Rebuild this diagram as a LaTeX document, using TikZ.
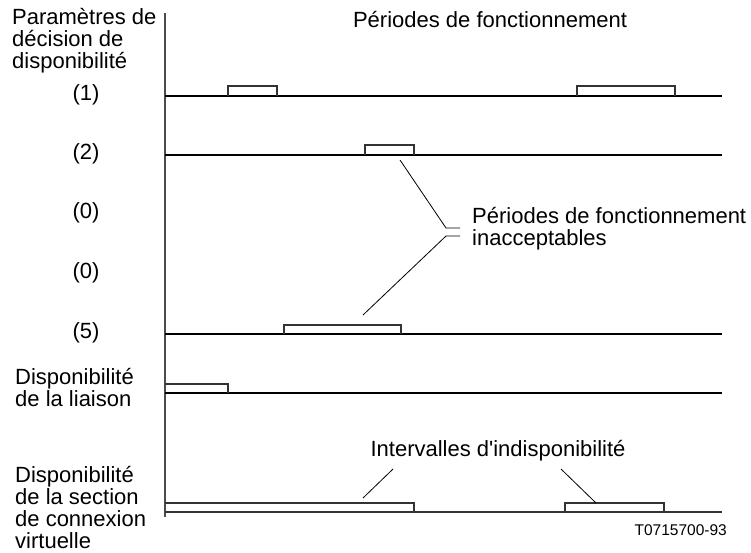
\documentclass[tikz,border=0pt]{standalone}
\usepackage{fontspec}
\setmainfont{Liberation Sans}
\usetikzlibrary{positioning}
\usetikzlibrary{calc}

\begin{document}
\begin{tikzpicture}[x=1pt,y=-1pt,
  every node/.style={font=\fontsize{22}{22}\selectfont,inner sep=0pt},
  trace/.style={line width=2.4pt},
  pulse/.style={line width=1.1pt,draw=black!80},
  lead/.style={line width=0.8pt}]
\useasboundingbox (0,0) rectangle (751,552);

% labels
\node[anchor=north west,align=left](param) at (12,8){Paramètres de\\décision de\\disponibilité};
\node[anchor=north](perf) at (490,11){Périodes de fonctionnement};
\node[](p1) at (86,95){(1)};
\node[](p2) at (86,154){(2)};
\node[](p0a) at (86,213){(0)};
\node[](p0b) at (86,273){(0)};
\node[](p5) at (86,333){(5)};
\node[anchor=north west,align=left](link) at (15,368){Disponibilité\\de la liaison};
\node[anchor=north west,align=left](vcs) at (15,466){Disponibilité\\de la section\\de connexion\\virtuelle};
\node[anchor=north west,align=left](bad) at (472,207){Périodes de fonctionnement\\inacceptables};
\node[anchor=north](unav) at (498,440){Intervalles d\textquotesingle indisponibilité};
\node[anchor=north east,font=\fontsize{15.5}{16}\selectfont](ref) at (727,524){T0715700-93};

% axis
\coordinate(top) at (165,13);
\coordinate(bot) at (165,517);
\draw[line width=1.3pt,black!70](top)--(bot);

% traces
\coordinate(r1w) at (165,96);
\coordinate(r1e) at (722,96);
\coordinate(r2w) at (165,155);
\coordinate(r2e) at (722,155);
\coordinate(r5w) at (165,334);
\coordinate(r5e) at (722,334);
\coordinate(lkw) at (165,393);
\coordinate(lke) at (722,393);
\coordinate(vcw) at (165,512);
\coordinate(vce) at (722,512);

\draw[trace](r1w)--(r1e);
\draw[trace](r2w)--(r2e);
\draw[trace](r5w)--(r5e);
\draw[trace](lkw)--(lke);
\draw[pulse](vcw)--(vce);

% pulses
\draw[pulse](228,96)|-(277,86)--(277,96);
\draw[pulse](577,96)|-(675,86)--(675,96);
\draw[pulse](365,155)|-(414,145)--(414,155);
\draw[pulse](284,334)|-(401,325)--(401,334);
\draw[pulse](165,384)-|(228,393);
\draw[pulse](165,503)-|(414,512);
\draw[pulse](565,512)|-(664,503)--(664,512);

% leaders
\coordinate(badA) at (400,160);
\coordinate(badAk) at (446,228);
\coordinate(badAe) at (460,228);
\coordinate(badB) at (363,315);
\coordinate(badBk) at (446,236);
\coordinate(badBe) at (460,236);
\coordinate(unA) at (363,498);
\coordinate(unAt) at (393,469);
\coordinate(unB) at (596,503);
\coordinate(unBt) at (561,469);

\draw[lead](badA)--(badAk)--(badAe);
\draw[lead](badB)--(badBk)--(badBe);
\path
(unAt) edge[lead] (unA)
(unBt) edge[lead] (unB);
\end{tikzpicture}
\end{document}
